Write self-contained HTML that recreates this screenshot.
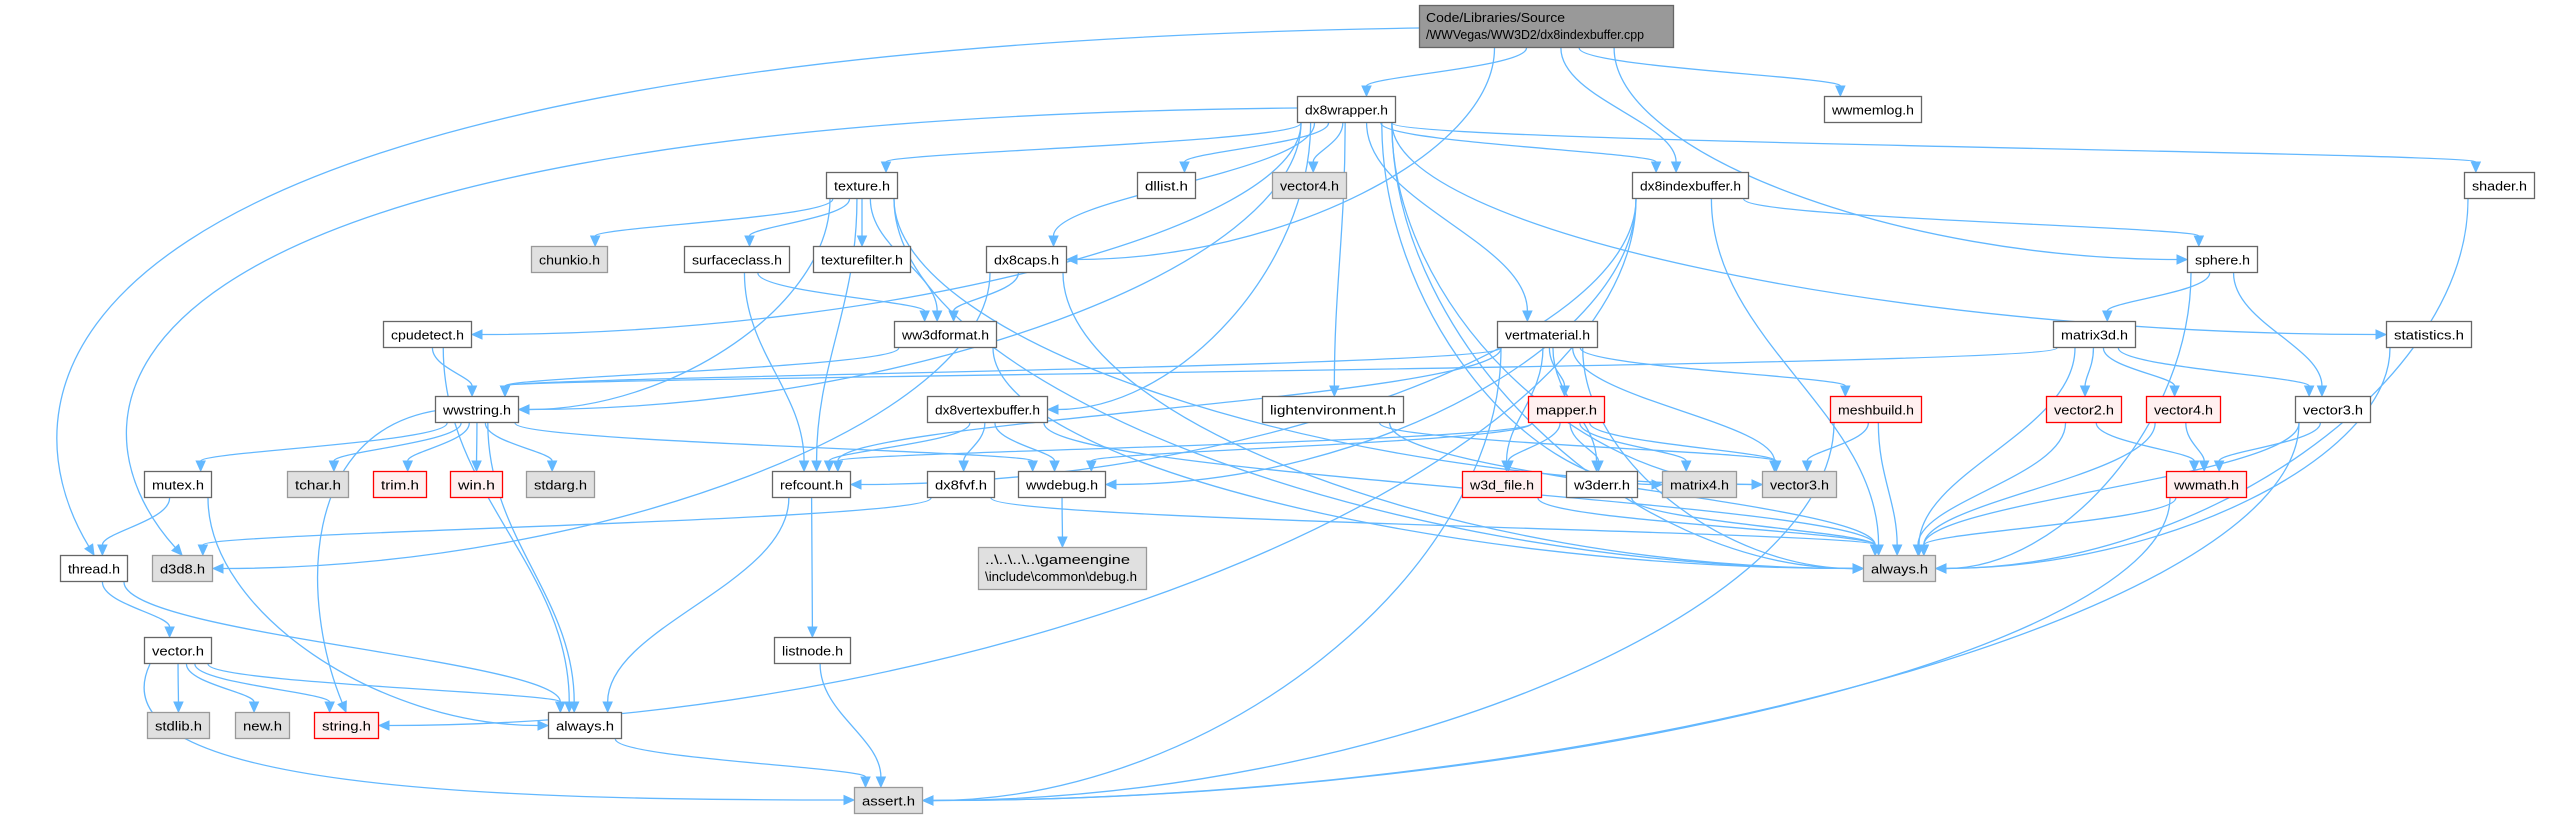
<!DOCTYPE html>
<html><head><meta charset="utf-8"><style>
html,body{margin:0;padding:0;background:#fff;}
svg{display:block;}
text{font-family:"Liberation Sans",sans-serif;font-size:13px;fill:#000;}
</style></head><body>
<svg id="g" width="2565" height="816" xmlns="http://www.w3.org/2000/svg">
<g id="edges" fill="none" stroke="#63b8ff" stroke-width="1.3"></g>
<g id="heads" fill="#63b8ff" stroke="#63b8ff" stroke-width="1"></g>
<g id="nodes"></g>
</svg>
<script>
var R={2:96,3:172,4:246,5:321,6:396,7:471,8:555,9:637,10:712,11:787};
var N={
root:[1419,1674,0,'d','Code/Libraries/Source|/WWVegas/WW3D2/dx8indexbuffer.cpp'],
dx8wrapper:[1297,1396,2,'w','dx8wrapper.h'],
wwmemlog:[1824,1922,2,'w','wwmemlog.h'],
texture:[826,898,3,'w','texture.h'],
dllist:[1137,1196,3,'w','dllist.h'],
vector4g:[1272,1347,3,'g','vector4.h'],
dx8ib:[1632,1749,3,'w','dx8indexbuffer.h'],
shader:[2464,2535,3,'w','shader.h'],
chunkio:[531,608,4,'g','chunkio.h'],
surfaceclass:[684,790,4,'w','surfaceclass.h'],
texturefilter:[813,911,4,'w','texturefilter.h'],
dx8caps:[986,1067,4,'w','dx8caps.h'],
sphere:[2187,2258,4,'w','sphere.h'],
cpudetect:[383,472,5,'w','cpudetect.h'],
ww3dformat:[894,997,5,'w','ww3dformat.h'],
vertmaterial:[1497,1598,5,'w','vertmaterial.h'],
matrix3d:[2053,2136,5,'w','matrix3d.h'],
statistics:[2386,2472,5,'w','statistics.h'],
wwstring:[435,519,6,'w','wwstring.h'],
dx8vb:[927,1048,6,'w','dx8vertexbuffer.h'],
lightenv:[1262,1404,6,'w','lightenvironment.h'],
mapper:[1528,1605,6,'r','mapper.h'],
meshbuild:[1830,1922,6,'r','meshbuild.h'],
vector2:[2046,2122,6,'r','vector2.h'],
vector4r:[2146,2221,6,'r','vector4.h'],
vector3w:[2295,2371,6,'w','vector3.h'],
mutex:[144,212,7,'w','mutex.h'],
tchar:[287,349,7,'g','tchar.h'],
trim:[373,427,7,'r','trim.h'],
win:[450,503,7,'r','win.h'],
stdarg:[526,595,7,'g','stdarg.h'],
refcount:[772,851,7,'w','refcount.h'],
dx8fvf:[927,995,7,'w','dx8fvf.h'],
wwdebug:[1018,1106,7,'w','wwdebug.h'],
w3dfile:[1462,1542,7,'r','w3d_file.h'],
w3derr:[1566,1638,7,'w','w3derr.h'],
matrix4:[1662,1737,7,'g','matrix4.h'],
vector3g:[1762,1837,7,'g','vector3.h'],
wwmath:[2166,2247,7,'r','wwmath.h'],
thread:[60,128,8,'w','thread.h'],
d3d8:[152,213,8,'g','d3d8.h'],
debug:[978,1147,-1,'g','..\\..\\..\\..\\gameengine|\\include\\common\\debug.h'],
alwaysg:[1863,1936,8,'g','always.h'],
vector:[144,212,9,'w','vector.h'],
listnode:[774,851,9,'w','listnode.h'],
stdlib:[147,210,10,'g','stdlib.h'],
newh:[235,290,10,'g','new.h'],
string:[314,379,10,'r','string.h'],
alwaysw:[548,622,10,'w','always.h'],
assert:[854,923,11,'g','assert.h']
};
function box(id){var n=N[id];var y1,y2;if(n[2]==0){y1=5;y2=48;}else if(n[2]==-1){y1=547;y2=590;}else{y1=R[n[2]];y2=y1+27;}return {x1:n[0],x2:n[1],y1:y1,y2:y2,cx:(n[0]+n[1])/2,cy:(y1+y2)/2,w:n[1]-n[0]};}
var OV={
'root>thread':[1419,28,0,50,0,400,94,555],
'dx8wrapper>d3d8':[1297,108,50,120,60,420,182,555],
'wwstring>string':[440,410,300,430,300,600,346,712],
'vector>assert':[150,664,90,790,500,800,854,800]
};
var E=[
['root','thread'],['root','dx8wrapper'],['root','dx8caps'],['root','dx8ib'],['root','sphere'],['root','wwmemlog'],
['dx8wrapper','d3d8'],['dx8wrapper','wwstring'],['dx8wrapper','cpudetect'],['dx8wrapper','texture'],['dx8wrapper','dx8caps'],['dx8wrapper','dllist'],['dx8wrapper','vector4g'],['dx8wrapper','dx8vb'],['dx8wrapper','lightenv'],['dx8wrapper','vertmaterial'],['dx8wrapper','matrix4'],['dx8wrapper','vector3g'],['dx8wrapper','dx8ib'],['dx8wrapper','alwaysg'],['dx8wrapper','shader'],['dx8wrapper','statistics'],
['texture','chunkio'],['texture','surfaceclass'],['texture','texturefilter'],['texture','ww3dformat'],['texture','wwstring'],['texture','refcount'],['texture','alwaysg'],['texture','vector3g'],
['dx8caps','ww3dformat'],['dx8caps','d3d8'],['dx8caps','alwaysg'],
['surfaceclass','ww3dformat'],['surfaceclass','refcount'],
['cpudetect','wwstring'],['cpudetect','alwaysw'],
['ww3dformat','wwstring'],['ww3dformat','alwaysg'],
['wwstring','mutex'],['wwstring','tchar'],['wwstring','trim'],['wwstring','win'],['wwstring','stdarg'],['wwstring','string'],['wwstring','alwaysw'],['wwstring','wwdebug'],
['mutex','thread'],['mutex','alwaysw'],['thread','vector'],['thread','alwaysw'],
['vector','stdlib'],['vector','newh'],['vector','string'],['vector','alwaysw'],['vector','assert'],
['refcount','listnode'],['refcount','alwaysw'],['listnode','assert'],['alwaysw','assert'],
['dx8vb','refcount'],['dx8vb','dx8fvf'],['dx8vb','wwdebug'],['dx8vb','alwaysg'],
['dx8fvf','d3d8'],['dx8fvf','alwaysg'],['wwdebug','debug'],
['dx8ib','refcount'],['dx8ib','wwdebug'],['dx8ib','sphere'],['dx8ib','alwaysg'],['dx8ib','string'],
['vertmaterial','wwstring'],['vertmaterial','refcount'],['vertmaterial','mapper'],['vertmaterial','w3dfile'],['vertmaterial','w3derr'],['vertmaterial','meshbuild'],['vertmaterial','vector3g'],['vertmaterial','alwaysg'],['vertmaterial','assert'],
['lightenv','alwaysg'],['lightenv','vector3g'],
['mapper','refcount'],['mapper','wwdebug'],['mapper','w3dfile'],['mapper','w3derr'],['mapper','matrix4'],['mapper','vector3g'],
['meshbuild','vector3g'],['meshbuild','alwaysg'],['meshbuild','assert'],
['sphere','matrix3d'],['sphere','vector3w'],['sphere','alwaysg'],
['matrix3d','vector2'],['matrix3d','vector4r'],['matrix3d','vector3w'],['matrix3d','alwaysg'],['matrix3d','wwstring'],
['vector2','wwmath'],['vector2','alwaysg'],['vector4r','wwmath'],['vector4r','alwaysg'],
['vector3w','wwmath'],['vector3w','alwaysg'],['vector3w','assert'],
['wwmath','alwaysg'],['wwmath','assert'],['statistics','alwaysg'],['shader','alwaysg'],
['w3dfile','alwaysg'],['w3derr','alwaysg']
];
function clamp(v,m){return Math.max(-m,Math.min(m,v));}
var NS='http://www.w3.org/2000/svg';
var eg=document.getElementById('edges'),hg=document.getElementById('heads'),ng=document.getElementById('nodes');
function mk(t,a,p){var e=document.createElementNS(NS,t);for(var k in a)e.setAttribute(k,a[k]);p.appendChild(e);return e;}
E.forEach(function(e){
 var s=box(e[0]),t=box(e[1]);var sx,sy,tx,ty,c1x,c1y,c2x,c2y;
 var o=OV[e[0]+'>'+e[1]];
 if(o){sx=o[0];sy=o[1];c1x=o[2];c1y=o[3];c2x=o[4];c2y=o[5];tx=o[6];ty=o[7];}
 else if(t.y1>s.y2+5){
  sx=s.cx+clamp((t.cx-s.cx)*0.1,s.w/2-4);
  sy=s.y2;
  if(t.y1-s.y2>150 && Math.abs(t.cx-s.cx)>300){
    tx=(t.cx>s.cx)?t.x1:t.x2; ty=t.cy;
    c1x=sx;c1y=sy+(ty-sy)*0.5;c2x=tx+(sx-tx)*0.5;c2y=ty;
  } else {
    tx=t.cx+clamp((s.cx-t.cx)*0.1,t.w/3); ty=t.y1;
    c1x=sx;c1y=sy+(ty-sy)*0.4;c2x=tx;c2y=ty-(ty-sy)*0.4;
  }
 } else if(t.y2<s.y1-5){
  sx=s.cx;sy=s.y1;tx=t.cx;ty=t.y2;c1x=sx;c1y=sy-(sy-ty)*0.4;c2x=tx;c2y=ty+(sy-ty)*0.4;
 } else {
  if(t.cx>s.cx){sx=s.x2;tx=t.x1;}else{sx=s.x1;tx=t.x2;}
  sy=s.cy;ty=t.cy;c1x=(sx+tx)/2;c1y=sy;c2x=(sx+tx)/2;c2y=ty;
 }
 var dx=tx-c2x,dy=ty-c2y,L=Math.sqrt(dx*dx+dy*dy)||1;dx/=L;dy/=L;
 var ex=tx-dx*10,ey=ty-dy*10;
 mk('path',{d:'M'+sx+','+sy+' C'+c1x+','+c1y+' '+c2x+','+c2y+' '+ex+','+ey},eg);
 var px=-dy,py=dx;
 mk('polygon',{points:tx+','+ty+' '+(ex+px*4.5)+','+(ey+py*4.5)+' '+(ex-px*4.5)+','+(ey-py*4.5)},hg);
});
for(var id in N){var n=N[id],b=box(id);
 var fill={w:'#fff',d:'#999',g:'#e0e0e0',r:'#fff0f0'}[n[3]],st={w:'#666',d:'#666',g:'#999',r:'#ff0000'}[n[3]];
 mk('rect',{x:b.x1+0.5,y:b.y1+0.5,width:b.w-1,height:b.y2-b.y1-1,fill:fill,stroke:st,'stroke-width':1.3},ng);
 var lines=n[4].split('|');
 lines.forEach(function(l,i){
  var t;
  if(lines.length==1){
   t=mk('text',{x:b.cx,y:b.cy+5,'text-anchor':'middle',textLength:b.w-16,lengthAdjust:'spacingAndGlyphs'},ng);
  } else {
   var tl=Math.min(b.w-14,Math.round(l.length*6.6));
   t=mk('text',{x:b.x1+7,y:b.y1+17+i*17,textLength:tl,lengthAdjust:'spacingAndGlyphs'},ng);
  }
  t.textContent=l;
 });
}
</script>
</body></html>
